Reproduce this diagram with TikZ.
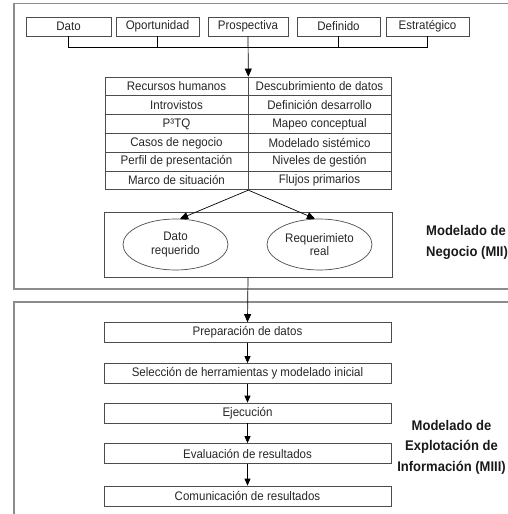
\documentclass[tikz,border=0pt]{standalone}
\usepackage{fontspec}
\setmainfont{Liberation Sans}[FakeStretch=0.93]
\usetikzlibrary{arrows.meta,shapes.geometric}
\begin{document}
\begin{tikzpicture}[x=1pt,y=-1pt,
  font=\fontsize{12.4}{13.5}\selectfont,
  box/.style={draw=black!70, line width=0.7pt, inner sep=0pt, minimum height=19pt, text=black!85},
  cell/.style={box, minimum width=143pt, minimum height=18.8pt},
  proc/.style={box, minimum width=287pt, minimum height=20pt},
  ell/.style={draw=black!70, line width=0.7pt, ellipse, minimum width=105pt, minimum height=51pt, inner sep=0pt, align=center, text=black!85},
  frame/.style={draw=black!45, line width=1.3pt},
  conn/.style={draw=black, line width=0.7pt},
  arr/.style={conn, -{Triangle[length=8pt,width=7pt]}},
  arrs/.style={conn, -{Triangle[length=7pt,width=6pt]}},
  lbl/.style={font=\fontsize{14}{20.5}\selectfont\bfseries, text=black!90, inner sep=0pt}
]
\useasboundingbox (0,0) rectangle (508,514);
% frames
\draw[frame] (520,3.5) -- (14,3.5) -- (14,289) -- (520,289);
\draw[frame] (520,302) -- (14,302) -- (14,530);

% top boxes
\node[box, minimum width=85pt] (dato) at (68.5,26.5) {Dato};
\node[box, minimum width=83pt] (opor) at (157.5,26.5) {Oportunidad};
\node[box, minimum width=80pt] (prosp) at (248,26.5) {Prospectiva};
\node[box, minimum width=83pt] (defi) at (338.5,26.5) {Definido};
\node[box, minimum width=83pt] (estr) at (427.5,26.5) {Estratégico};
\coordinate (bar) at (0,47);
\draw[conn] (dato.south) |- (bar -| estr.south) -- (estr.south);
\draw[conn] (opor.south) -- (opor.south |- bar);
\draw[conn] (defi.south) -- (defi.south |- bar);

% table
\foreach \i/\l/\r in {1/Recursos humanos/Descubrimiento de datos,
                      2/Introvistos/Definición desarrollo,
                      3/P³TQ/Mapeo conceptual,
                      4/Casos de negocio/Modelado sistémico,
                      5/Perfil de presentación/Niveles de gestión,
                      6/Marco de situación/Flujos primarios}{
  \node[cell] (l\i) at (176.5,{77+9.4+18.8*(\i-1)}) {\l};
  \node[cell] (r\i) at (319.5,{77+9.4+18.8*(\i-1)}) {\r};
}
\draw[arr] (prosp.south) -- (l1.north east);

% ellipse box
\node[box, minimum width=288pt, minimum height=65pt] (ebox) at (248,244.5) {};
\node[ell] (e1) at (175.5,244.5) {Dato\\requerido};
\node[ell] (e2) at (319.5,244.5) {Requerimieto\\real};
\draw[arr] (l6.south east) -- (e1.80);
\draw[arr] (l6.south east) -- (e2.100);

\node[lbl, anchor=base west, align=left] (neg) at (426,256) {Modelado de\\Negocio (MII)};

% process boxes
\node[proc] (p1) at (247.5,332.5) {Preparación de datos};
\node[proc] (p2) at (247.5,373.5) {Selección de herramientas y modelado inicial};
\node[proc] (p3) at (247.5,413) {Ejecución};
\node[proc] (p4) at (247.5,453.5) {Evaluación de resultados};
\node[proc] (p5) at (247.5,496) {Comunicación de resultados};
\draw[arr] (ebox.south) -- (p1.north);
\draw[arrs] (p1) -- (p2);
\draw[arrs] (p2) -- (p3);
\draw[arrs] (p3) -- (p4);
\draw[arrs] (p4) -- (p5);

\node[lbl, anchor=base, align=center] (expl) at (451.5,471) {Modelado de\\Explotación de\\Información (MIII)};
\end{tikzpicture}
\end{document}
